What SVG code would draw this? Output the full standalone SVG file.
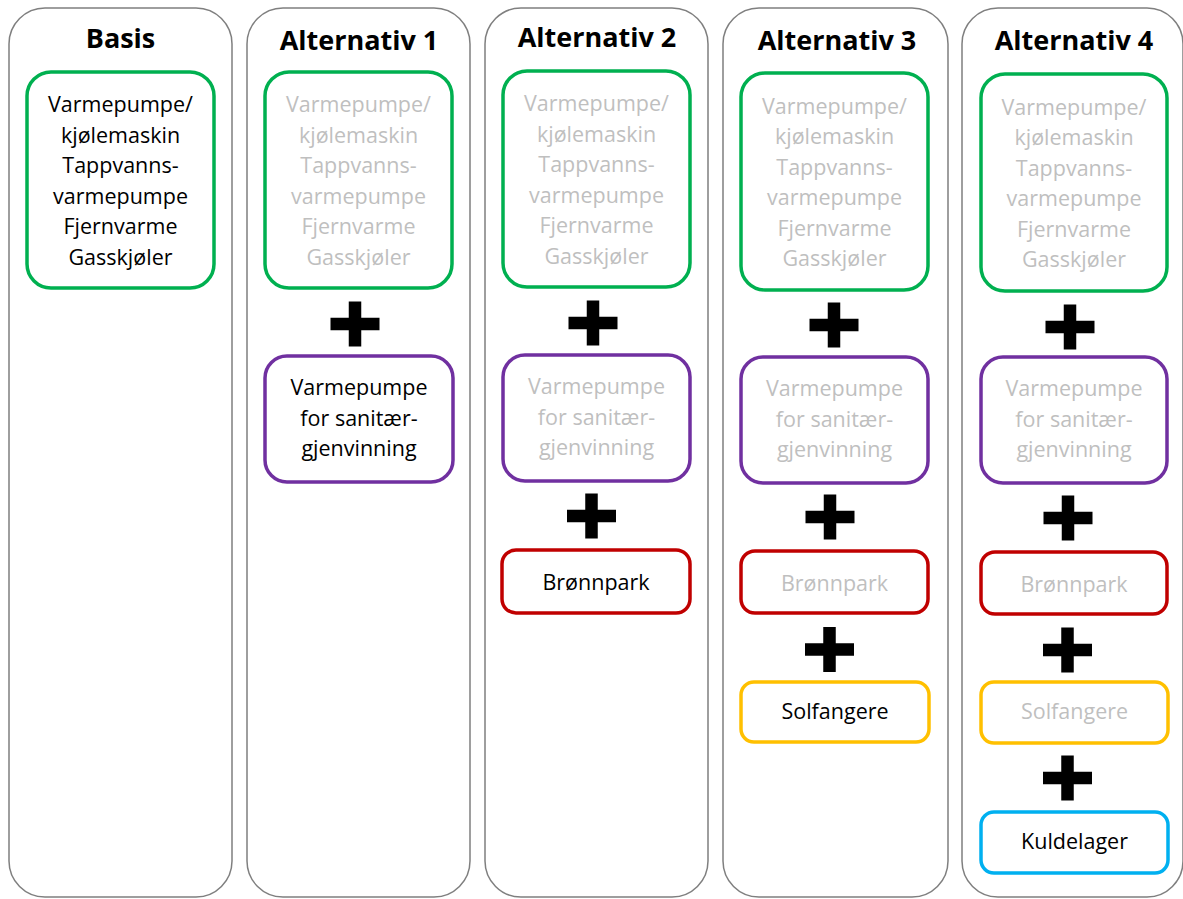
<svg xmlns="http://www.w3.org/2000/svg" width="1183" height="899" viewBox="0 0 1183 899">
<style>
.col{fill:#fff;stroke:#7f7f7f;stroke-width:1.5}
.title{font-family:"Open Sans","Liberation Sans",sans-serif;font-weight:bold;font-size:27px;fill:#000;text-anchor:middle}
.t{font-family:"Open Sans","Liberation Sans",sans-serif;font-size:21.5px;text-anchor:middle}
.on{fill:#000}
.off{fill:#bfbfbf}
.g{fill:#fff;stroke:#00b050;stroke-width:3.5}
.p{fill:#fff;stroke:#7030a0;stroke-width:3.5}
.r{fill:#fff;stroke:#c00000;stroke-width:3.5}
.y{fill:#fff;stroke:#ffc000;stroke-width:3.5}
.b{fill:#fff;stroke:#00b0f0;stroke-width:3.5}
.plus{fill:none;stroke:#000;stroke-width:12.5}
</style>
<defs>
<path id="plus" class="plus" d="M-24.5 0H24.5M0 -22.5V22.5"/>
</defs>

<g id="basis">
<rect class="col" x="9" y="8" width="223" height="889" rx="36"/>
<text class="title" x="120.5" y="48">Basis</text>
<g id="basis-green">
<rect class="g" x="27" y="72" width="187" height="216" rx="24"/>
<text class="t on" x="120.5"><tspan x="120.5" y="112">Varmepumpe/</tspan><tspan x="120.5" y="142.5">kjølemaskin</tspan><tspan x="120.5" y="173">Tappvanns-</tspan><tspan x="120.5" y="203.5">varmepumpe</tspan><tspan x="120.5" y="234">Fjernvarme</tspan><tspan x="120.5" y="264.5">Gasskjøler</tspan></text>
</g>
</g>

<g id="alt1">
<rect class="col" x="247" y="8" width="223" height="889" rx="36"/>
<text class="title" x="359" y="50">Alternativ 1</text>
<g id="alt1-green">
<rect class="g" x="265" y="72" width="187" height="216" rx="24"/>
<text class="t off"><tspan x="358.5" y="112">Varmepumpe/</tspan><tspan x="358.5" y="142.5">kjølemaskin</tspan><tspan x="358.5" y="173">Tappvanns-</tspan><tspan x="358.5" y="203.5">varmepumpe</tspan><tspan x="358.5" y="234">Fjernvarme</tspan><tspan x="358.5" y="264.5">Gasskjøler</tspan></text>
</g>
<use href="#plus" x="355" y="324"/>
<g id="alt1-purple">
<rect class="p" x="265" y="356" width="188" height="126" rx="22"/>
<text class="t on"><tspan x="359" y="395">Varmepumpe</tspan><tspan x="359" y="425.5">for sanitær-</tspan><tspan x="359" y="456">gjenvinning</tspan></text>
</g>
</g>

<g id="alt2">
<rect class="col" x="485" y="8" width="223" height="889" rx="36"/>
<text class="title" x="597" y="47">Alternativ 2</text>
<g id="alt2-green">
<rect class="g" x="503" y="71" width="187" height="216" rx="24"/>
<text class="t off"><tspan x="596.5" y="111">Varmepumpe/</tspan><tspan x="596.5" y="141.5">kjølemaskin</tspan><tspan x="596.5" y="172">Tappvanns-</tspan><tspan x="596.5" y="202.5">varmepumpe</tspan><tspan x="596.5" y="233">Fjernvarme</tspan><tspan x="596.5" y="263.5">Gasskjøler</tspan></text>
</g>
<use href="#plus" x="593" y="323"/>
<g id="alt2-purple">
<rect class="p" x="503" y="355" width="187" height="126" rx="22"/>
<text class="t off"><tspan x="596.5" y="394">Varmepumpe</tspan><tspan x="596.5" y="424.5">for sanitær-</tspan><tspan x="596.5" y="455">gjenvinning</tspan></text>
</g>
<use href="#plus" x="591.5" y="516"/>
<g id="alt2-red">
<rect class="r" x="502" y="550" width="188" height="63" rx="14"/>
<text class="t on" x="596" y="590">Brønnpark</text>
</g>
</g>

<g id="alt3">
<rect class="col" x="723" y="8" width="225" height="889" rx="36"/>
<text class="title" x="837" y="50">Alternativ 3</text>
<g id="alt3-green">
<rect class="g" x="741" y="73" width="187" height="217" rx="24"/>
<text class="t off"><tspan x="834.5" y="113.5">Varmepumpe/</tspan><tspan x="834.5" y="144">kjølemaskin</tspan><tspan x="834.5" y="174.5">Tappvanns-</tspan><tspan x="834.5" y="205">varmepumpe</tspan><tspan x="834.5" y="235.5">Fjernvarme</tspan><tspan x="834.5" y="266">Gasskjøler</tspan></text>
</g>
<use href="#plus" x="834" y="325"/>
<g id="alt3-purple">
<rect class="p" x="741" y="357" width="187" height="126" rx="22"/>
<text class="t off"><tspan x="834.5" y="396">Varmepumpe</tspan><tspan x="834.5" y="426.5">for sanitær-</tspan><tspan x="834.5" y="457">gjenvinning</tspan></text>
</g>
<use href="#plus" x="830" y="517"/>
<g id="alt3-red">
<rect class="r" x="741" y="551" width="187" height="62" rx="14"/>
<text class="t off" x="834.5" y="591">Brønnpark</text>
</g>
<use href="#plus" x="829.5" y="649.5"/>
<g id="alt3-yellow">
<rect class="y" x="741" y="682" width="188" height="60" rx="13"/>
<text class="t on" x="835" y="719">Solfangere</text>
</g>
</g>

<g id="alt4">
<rect class="col" x="962" y="8" width="221" height="889" rx="36"/>
<text class="title" x="1074" y="50">Alternativ 4</text>
<g id="alt4-green">
<rect class="g" x="981" y="74" width="186" height="217" rx="24"/>
<text class="t off"><tspan x="1074" y="114.5">Varmepumpe/</tspan><tspan x="1074" y="145">kjølemaskin</tspan><tspan x="1074" y="175.5">Tappvanns-</tspan><tspan x="1074" y="206">varmepumpe</tspan><tspan x="1074" y="236.5">Fjernvarme</tspan><tspan x="1074" y="267">Gasskjøler</tspan></text>
</g>
<use href="#plus" x="1070" y="327"/>
<g id="alt4-purple">
<rect class="p" x="981" y="357" width="186" height="126" rx="22"/>
<text class="t off"><tspan x="1074" y="396">Varmepumpe</tspan><tspan x="1074" y="426.5">for sanitær-</tspan><tspan x="1074" y="457">gjenvinning</tspan></text>
</g>
<use href="#plus" x="1068" y="518"/>
<g id="alt4-red">
<rect class="r" x="981" y="552" width="186" height="62" rx="14"/>
<text class="t off" x="1074" y="592">Brønnpark</text>
</g>
<use href="#plus" x="1067.5" y="650"/>
<g id="alt4-yellow">
<rect class="y" x="981" y="682" width="187" height="61" rx="13"/>
<text class="t off" x="1074.5" y="719">Solfangere</text>
</g>
<use href="#plus" x="1067.5" y="778"/>
<g id="alt4-blue">
<rect class="b" x="981" y="812" width="187" height="61" rx="13"/>
<text class="t on" x="1074.5" y="849">Kuldelager</text>
</g>
</g>

<g id="connectors"></g>
</svg>
